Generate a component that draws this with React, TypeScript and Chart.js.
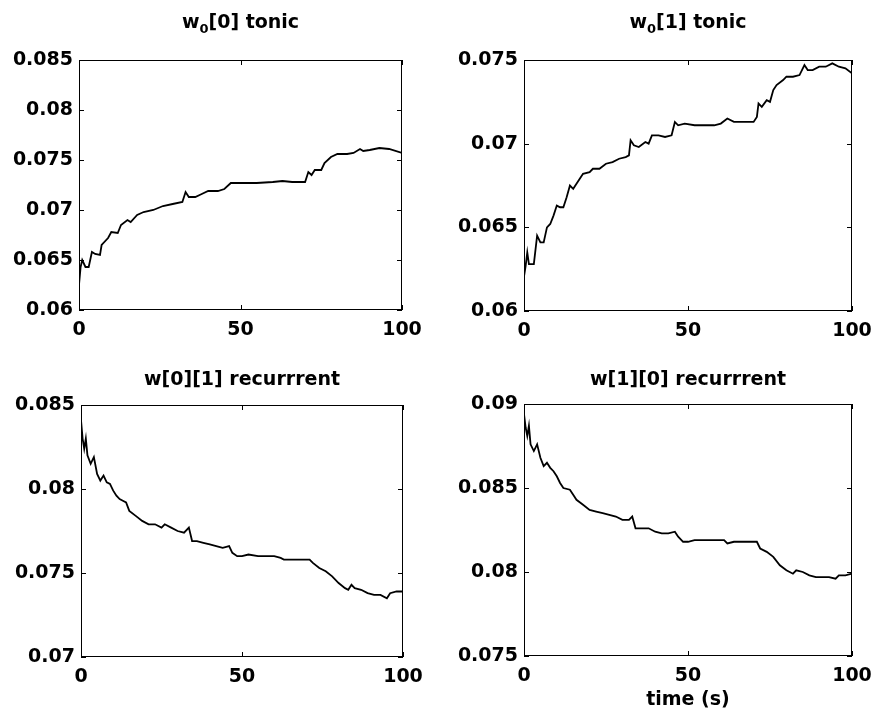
import React, { useEffect, useRef } from "react";
import { Chart, registerables } from "chart.js";

Chart.register(...registerables);

const FONT = "'DejaVu Sans', 'Liberation Sans', sans-serif";

// ---- data ----
const tW00 = [0, 0.5, 1, 2, 3, 4, 5, 6.5, 7, 9, 10, 12, 13, 15, 16, 18, 20, 23, 26, 29, 32, 33, 34, 36, 38, 40, 43, 45, 47, 50, 55, 60, 63, 66, 70, 71, 72, 73, 75, 76, 78, 80, 83, 85, 87, 88, 90, 93, 96, 100];
const vW00 = [0.0625, 0.0643, 0.065, 0.0643, 0.0643, 0.0658, 0.0656, 0.0655, 0.0665, 0.0672, 0.0678, 0.0677, 0.0685, 0.069, 0.0688, 0.0695, 0.0698, 0.07, 0.0704, 0.0706, 0.0708, 0.0718, 0.0713, 0.0713, 0.0716, 0.0719, 0.0719, 0.0721, 0.0727, 0.0727, 0.0727, 0.0728, 0.0729, 0.0728, 0.0728, 0.0738, 0.0735, 0.074, 0.074, 0.0747, 0.0753, 0.0756, 0.0756, 0.0757, 0.0761, 0.0759, 0.076, 0.0762, 0.0761, 0.0757];

const tW01 = [0, 0.5, 1, 1.5, 3, 4, 5, 6, 7, 8, 9, 10, 11, 12, 13, 14, 15, 16, 17, 18, 20, 21, 23, 25, 27, 29, 31, 32, 32.5, 33.5, 35, 37, 38, 39, 41, 43, 45, 46, 47, 49, 52, 55, 58, 60, 62, 64, 67, 70, 71, 71.5, 72.5, 74, 75, 76, 77, 79, 80, 82, 84, 85.5, 86.5, 88, 90, 92, 94, 96, 98, 100];
const vW01 = [0.06205, 0.0627, 0.0635, 0.0628, 0.0628, 0.0645, 0.0641, 0.0641, 0.065, 0.0652, 0.0657, 0.0663, 0.0662, 0.0662, 0.0668, 0.0675, 0.0673, 0.0676, 0.0679, 0.0682, 0.0683, 0.0685, 0.0685, 0.0688, 0.0689, 0.0691, 0.0692, 0.0693, 0.0702, 0.0699, 0.0698, 0.0701, 0.07, 0.0705, 0.0705, 0.0704, 0.0705, 0.0713, 0.0711, 0.0712, 0.0711, 0.0711, 0.0711, 0.0712, 0.0715, 0.0713, 0.0713, 0.0713, 0.0716, 0.0724, 0.0722, 0.0726, 0.0725, 0.0732, 0.0735, 0.0738, 0.074, 0.074, 0.0741, 0.0747, 0.0744, 0.0744, 0.0746, 0.0746, 0.0748, 0.0746, 0.0745, 0.0742];

const tR01 = [0, 0.5, 1, 1.5, 2, 3, 4, 5, 6, 7, 8, 9, 10, 11, 12, 13, 14, 15, 17, 19, 21, 23, 25, 26, 28, 30, 32, 33.5, 34.5, 36, 38, 40, 42, 44, 46, 47, 48.5, 50, 52, 55, 58, 60, 62, 63, 66, 69, 71, 72, 74, 76, 78, 80, 82, 83, 84, 85, 87, 89, 91, 93, 95, 96, 98, 100];
const vR01 = [0.0841, 0.083, 0.0824, 0.083, 0.082, 0.0815, 0.0819, 0.0809, 0.0805, 0.0808, 0.0804, 0.0803, 0.0799, 0.0796, 0.0794, 0.0793, 0.0792, 0.0787, 0.0784, 0.0781, 0.0779, 0.0779, 0.0777, 0.0779, 0.0777, 0.0775, 0.0774, 0.0777, 0.0769, 0.0769, 0.0768, 0.0767, 0.0766, 0.0765, 0.0766, 0.0762, 0.076, 0.076, 0.0761, 0.076, 0.076, 0.076, 0.0759, 0.0758, 0.0758, 0.0758, 0.0758, 0.0756, 0.0753, 0.0751, 0.0748, 0.0744, 0.0741, 0.074, 0.0743, 0.0741, 0.074, 0.0738, 0.0737, 0.0737, 0.0735, 0.0738, 0.0739, 0.0739];

const tR10 = [0, 0.5, 1, 1.5, 2, 3, 4, 5, 6, 7, 8, 9, 10, 11, 12, 14, 15, 16, 18, 20, 22, 24, 26, 28, 30, 32, 33, 34, 36, 38, 40, 42, 44, 46, 47, 48.5, 50, 52, 55, 58, 61, 62, 64, 67, 70, 71, 72, 74, 76, 78, 80, 82, 83, 85, 87, 89, 91, 93, 95, 96, 98, 100];
const vR10 = [0.0894, 0.0886, 0.0881, 0.0887, 0.0876, 0.0872, 0.0876, 0.0868, 0.0863, 0.0865, 0.0862, 0.086, 0.0857, 0.0853, 0.085, 0.0849, 0.0846, 0.0843, 0.084, 0.0837, 0.0836, 0.0835, 0.0834, 0.0833, 0.0831, 0.0831, 0.0833, 0.0826, 0.0826, 0.0826, 0.0824, 0.0823, 0.0823, 0.0824, 0.0821, 0.0818, 0.0818, 0.0819, 0.0819, 0.0819, 0.0819, 0.0817, 0.0818, 0.0818, 0.0818, 0.0818, 0.0814, 0.0812, 0.0809, 0.0804, 0.0801, 0.0799, 0.0801, 0.08, 0.0798, 0.0797, 0.0797, 0.0797, 0.0796, 0.0798, 0.0798, 0.0799];

const xTicks = [0, 50, 100];
const yRangeW00 = [0.06, 0.085];
const yRangeW01 = [0.06, 0.075];
const yRangeR01 = [0.07, 0.085];
const yRangeR10 = [0.075, 0.09];

type Part = { text: string; sub?: boolean };

const titleW00: Part[] = [{ text: "w" }, { text: "0", sub: true }, { text: "[0] tonic" }];
const titleW01: Part[] = [{ text: "w" }, { text: "0", sub: true }, { text: "[1] tonic" }];
const titleR01: Part[] = [{ text: "w[0][1] recurrrent" }];
const titleR10: Part[] = [{ text: "w[1][0] recurrrent" }];
const xLabelR10 = "time (s)";

const PAD_L = 80;
const PAD_T = 60;
const PAD_R = 40;
const PAD_B = 60;

const framePlugin = {
  id: "matlabFrame",
  afterDraw(chart: any, _args: any, opts: any) {
    const { ctx, chartArea: a, scales } = chart;
    ctx.save();
    ctx.strokeStyle = "#000";
    ctx.lineWidth = 1;
    ctx.strokeRect(a.left + 0.5, a.top + 0.5, a.right - a.left - 1, a.bottom - a.top - 1);
    const tl = 5;
    ctx.beginPath();
    scales.x.ticks.forEach((t: any) => {
      const px = Math.round(scales.x.getPixelForValue(t.value)) + 0.5;
      ctx.moveTo(px, a.bottom);
      ctx.lineTo(px, a.bottom - tl);
      ctx.moveTo(px, a.top);
      ctx.lineTo(px, a.top + tl);
    });
    scales.y.ticks.forEach((t: any) => {
      const py = Math.round(scales.y.getPixelForValue(t.value)) + 0.5;
      ctx.moveTo(a.left, py);
      ctx.lineTo(a.left + tl, py);
      ctx.moveTo(a.right, py);
      ctx.lineTo(a.right - tl, py);
    });
    ctx.stroke();

    // title with optional subscript
    const parts: Part[] = opts.title || [];
    const mainFont = `bold 19px ${FONT}`;
    const subFont = `bold 13px ${FONT}`;
    let total = 0;
    const widths = parts.map((p) => {
      ctx.font = p.sub ? subFont : mainFont;
      const w = ctx.measureText(p.text).width;
      total += w;
      return w;
    });
    const cx = (a.left + a.right) / 2;
    let x = cx - total / 2;
    const base = a.top - opts.titleOffset;
    ctx.fillStyle = "#000";
    ctx.textBaseline = "alphabetic";
    ctx.textAlign = "left";
    parts.forEach((p, i) => {
      ctx.font = p.sub ? subFont : mainFont;
      ctx.fillText(p.text, x, p.sub ? base + 5 : base);
      x += widths[i];
    });

    if (opts.xLabel) {
      ctx.font = mainFont;
      ctx.textAlign = "center";
      ctx.fillText(opts.xLabel, cx, a.bottom + 49);
    }
    ctx.restore();
  },
};

type PanelProps = {
  left: number;
  top: number;
  w: number;
  h: number;
  times: number[];
  values: number[];
  yRange: number[];
  title: Part[];
  titleOffset: number;
  xLabel?: string;
};

function Panel(props: PanelProps) {
  const ref = useRef<HTMLCanvasElement | null>(null);
  const cw = props.w + PAD_L + PAD_R;
  const ch = props.h + PAD_T + PAD_B;
  useEffect(() => {
    if (!ref.current) return;
    const data = props.times.map((t, i) => ({ x: t, y: props.values[i] }));
    const chart = new Chart(ref.current, {
      type: "line",
      data: {
        datasets: [
          {
            data,
            borderColor: "#000",
            borderWidth: 1.8,
            pointRadius: 0,
            tension: 0,
            fill: false,
          },
        ],
      },
      options: {
        responsive: false,
        animation: false,
        devicePixelRatio: 1,
        layout: { padding: { top: PAD_T, right: PAD_R, left: 0, bottom: 0 } },
        plugins: {
          legend: { display: false },
          tooltip: { enabled: false },
          title: { display: false },
          matlabFrame: { title: props.title, titleOffset: props.titleOffset, xLabel: props.xLabel },
        } as any,
        scales: {
          x: {
            type: "linear",
            min: 0,
            max: 100,
            afterBuildTicks: (scale: any) => {
              scale.ticks = xTicks.map((v) => ({ value: v }));
            },
            afterFit: (scale: any) => {
              scale.height = PAD_B;
            },
            grid: { display: false, drawTicks: false },
            border: { display: false },
            ticks: {
              color: "#000",
              font: { family: FONT, size: 19, weight: "bold" },
              padding: 9,
              maxRotation: 0,
              autoSkip: false,
              callback: (v: any) => String(v),
            },
          },
          y: {
            type: "linear",
            min: props.yRange[0],
            max: props.yRange[1],
            afterFit: (scale: any) => {
              scale.width = PAD_L;
            },
            grid: { display: false, drawTicks: false },
            border: { display: false },
            ticks: {
              stepSize: 0.005,
              color: "#000",
              font: { family: FONT, size: 19, weight: "bold" },
              padding: 6,
              autoSkip: false,
              callback: (v: any) => String(parseFloat(Number(v).toFixed(4))),
            },
          },
        },
      },
      plugins: [framePlugin as any],
    });
    return () => chart.destroy();
  }, []);
  return (
    <canvas
      ref={ref}
      width={cw}
      height={ch}
      style={{ position: "absolute", left: props.left - PAD_L, top: props.top - PAD_T, width: cw, height: ch }}
    />
  );
}

export default function App() {
  return (
    <div style={{ position: "absolute", left: 0, top: 0, width: 878, height: 719, background: "#fff", overflow: "hidden" }}>
      <Panel left={79} top={60} w={323} h={250} times={tW00} values={vW00} yRange={yRangeW00} title={titleW00} titleOffset={32} />
      <Panel left={524} top={60} w={328} h={251} times={tW01} values={vW01} yRange={yRangeW01} title={titleW01} titleOffset={32} />
      <Panel left={81} top={405} w={322} h={252} times={tR01} values={vR01} yRange={yRangeR01} title={titleR01} titleOffset={20} />
      <Panel left={524} top={404} w={328} h={252} times={tR10} values={vR10} yRange={yRangeR10} title={titleR10} titleOffset={19} xLabel={xLabelR10} />
    </div>
  );
}
